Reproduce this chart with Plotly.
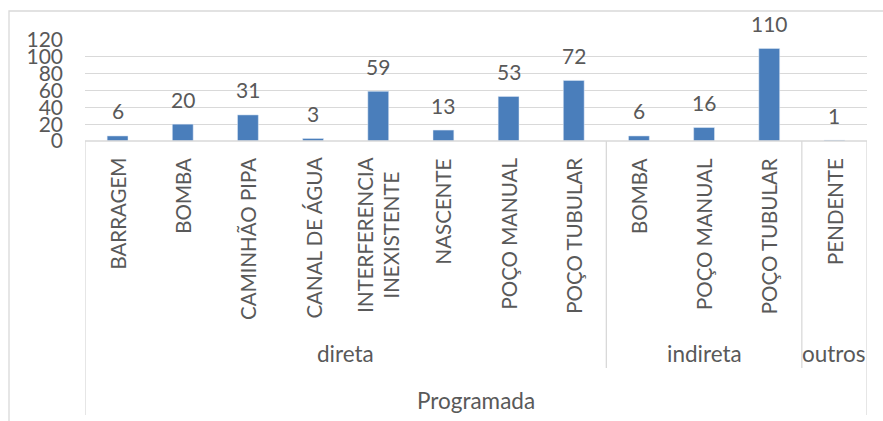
import plotly.graph_objects as go

categories = ["BARRAGEM", "BOMBA", "CAMINHÃO PIPA", "CANAL DE ÁGUA",
              "INTERFERENCIA<br>INEXISTENTE", "NASCENTE", "POÇO MANUAL", "POÇO TUBULAR",
              "BOMBA", "POÇO MANUAL", "POÇO TUBULAR", "PENDENTE"]
values = [6, 20, 31, 3, 59, 13, 53, 72, 6, 16, 110, 1]
groups = ["direta", "indireta", "outros"]
group_sizes = [8, 3, 1]
top_group = "Programada"
y_ticks = [0, 20, 40, 60, 80, 100, 120]

W, H = 883, 421
PL, PR, PT, PB = 85, 867, 40, 141
FONT = "Lato, Carlito, Calibri, sans-serif"
FS_NUM = 21
FS_CAT = 20.5
FS_GRP = 22.5
TXT = "#595959"
GRID = "#d9d9d9"
BAR = "#4a7ebb"


def py(p):
    return (PB - p) / (PB - PT)


def px(p):
    return (p - PL) / (PR - PL)


n = len(categories)
xs = list(range(n))

fig = go.Figure()
fig.add_trace(go.Bar(x=xs, y=values, marker_color=BAR, width=0.32,
                     hoverinfo="skip", showlegend=False))

ann = []
# data labels
for i, v in zip(xs, values):
    ann.append(dict(x=i, y=v, xref="x", yref="y", text=str(v), showarrow=False,
                    yanchor="middle", yshift=25, font=dict(family=FONT, size=FS_NUM, color=TXT)))
# category labels (rotated)
for i, c in zip(xs, categories):
    ann.append(dict(x=i, y=py(156), xref="x", yref="paper", text=c, showarrow=False,
                    textangle=-90, xanchor="center", yanchor="top", align="center",
                    font=dict(family=FONT, size=FS_CAT, color=TXT)))
# group labels and separators
shapes = []
start = -0.5
bounds = [start]
for g, s in zip(groups, group_sizes):
    end = start + s
    ann.append(dict(x=(start + end) / 2, y=py(353), xref="x", yref="paper", text=g,
                    showarrow=False, yanchor="middle",
                    font=dict(family=FONT, size=FS_GRP, color=TXT)))
    bounds.append(end)
    start = end
ann.append(dict(x=(bounds[0] + bounds[-1]) / 2, y=py(400), xref="x", yref="paper",
                text=top_group, showarrow=False, yanchor="middle",
                font=dict(family=FONT, size=FS_GRP, color=TXT)))

line = dict(color=GRID, width=1.3)
for k, b in enumerate(bounds):
    bottom = 415 if k in (0, len(bounds) - 1) else 368
    shapes.append(dict(type="line", xref="x", yref="paper", x0=b, x1=b,
                       y0=py(PB), y1=py(bottom), line=line))
shapes.append(dict(type="line", xref="paper", yref="paper", x0=0, x1=1, y0=0, y1=0, line=line))
# chart border
shapes.append(dict(type="rect", xref="paper", yref="paper", x0=px(9), x1=px(900),
                   y0=py(11), y1=py(440), line=dict(color=GRID, width=1.3),
                   fillcolor="rgba(0,0,0,0)"))

fig.update_layout(
    width=W, height=H,
    margin=dict(l=PL, r=W - PR, t=PT, b=H - PB, pad=0),
    paper_bgcolor="white", plot_bgcolor="white",
    xaxis=dict(range=[-0.5, n - 0.5], showticklabels=False, showgrid=False,
               zeroline=False, showline=False, fixedrange=True),
    yaxis=dict(range=[0, 120], tickvals=y_ticks, ticktext=[str(t) for t in y_ticks],
               showgrid=True, gridcolor=GRID, gridwidth=1.3, zeroline=False,
               showline=False, ticks="", ticklabelstandoff=21,
               tickfont=dict(family=FONT, size=FS_NUM, color=TXT), fixedrange=True),
    annotations=ann, shapes=shapes,
)

fig.write_html("out.html", config={"displayModeBar": False},
               post_script="document.body.style.margin='0';document.body.style.overflow='hidden';")
